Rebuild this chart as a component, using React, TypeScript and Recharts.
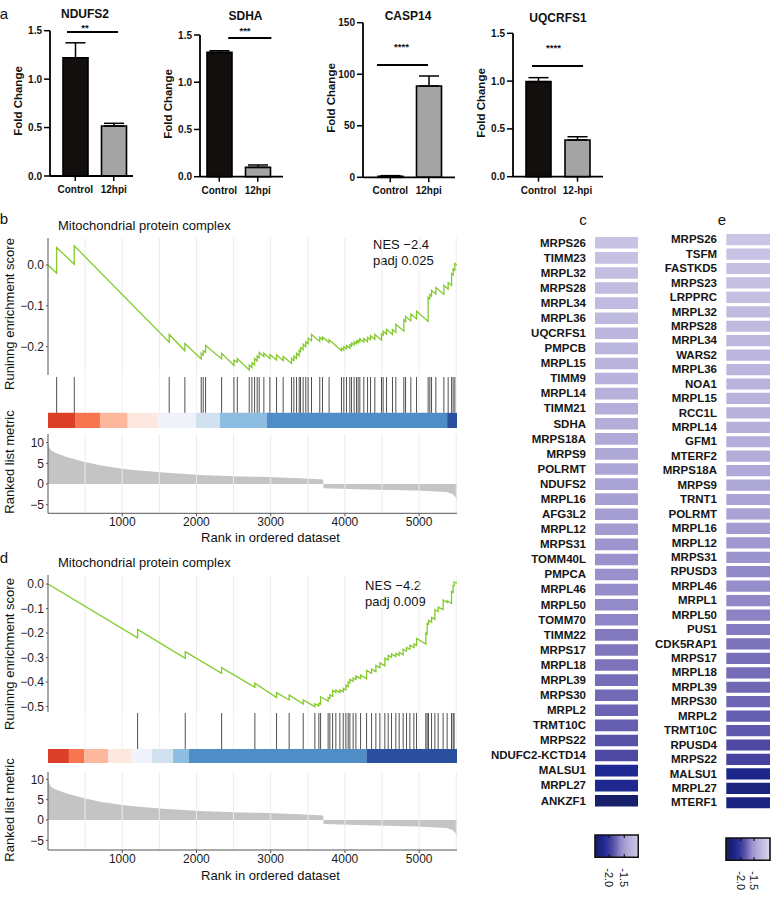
import React from "react";
import {
  Area,
  AreaChart,
  Bar,
  BarChart,
  Cell,
  ComposedChart,
  ErrorBar,
  Line,
  LineChart,
  ReferenceArea,
  ReferenceLine,
  XAxis,
  YAxis,
} from "recharts";

const FONT = "'Liberation Sans', Arial, Helvetica, sans-serif";
const MINUS = "\u2212";

// ---------- a: qPCR fold change ----------
const groups12hpi = ["Control", "12hpi"];
const groups12dash = ["Control", "12-hpi"];
const ndufs2Mean = [1.22, 0.516];
const ndufs2Sem = [0.155, 0.028];
const sdhaMean = [1.316, 0.099];
const sdhaSem = [0.017, 0.025];
const casp14Mean = [1.0, 88.6];
const casp14Sem = [0.6, 9.7];
const uqcrfs1Mean = [0.994, 0.384];
const uqcrfs1Sem = [0.042, 0.034];
const foldTicks = [0, 0.5, 1, 1.5];
const casp14Ticks = [0, 50, 100, 150];
const barFills = ["#140f0f", "#a4a4a4"];

const QPCR = [
  { title: "NDUFS2", titleX: 85, titleY: 14, groups: groups12hpi, mean: ndufs2Mean, sem: ndufs2Sem, ticks: foldTicks, digits: 1,
    left: 0, width: 140, plotTop: 30.7, plotBottom: 176, pad: { left: 6, right: 0 },
    stars: "**", starX: 85, starY: 25, sigY: 1.487, sigFrom: 0.205, sigTo: 0.82 },
  { title: "SDHA", titleX: 245.5, titleY: 15.5, groups: groups12hpi, mean: sdhaMean, sem: sdhaSem, ticks: foldTicks, digits: 1,
    left: 150, width: 140, plotTop: 35, plotBottom: 176.7, pad: { left: 0, right: 6 },
    stars: "***", starX: 245, starY: 28.3, sigY: 1.468, sigFrom: 0.34, sigTo: 0.86 },
  { title: "CASP14", titleX: 408, titleY: 15.5, groups: groups12hpi, mean: casp14Mean, sem: casp14Sem, ticks: casp14Ticks, digits: 0,
    left: 313, width: 149, plotTop: 22.7, plotBottom: 177.3, pad: { left: 8, right: 7 },
    stars: "****", starX: 401.5, starY: 44.5, sigY: 109, sigFrom: 0.152, sigTo: 0.707 },
  { title: "UQCRFS1", titleX: 558, titleY: 17.5, groups: groups12dash, mean: uqcrfs1Mean, sem: uqcrfs1Sem, ticks: foldTicks, digits: 1,
    left: 463, width: 147, plotTop: 33.3, plotBottom: 176.7, pad: { left: 6, right: 6 },
    stars: "****", starX: 553.5, starY: 45.8, sigY: 1.158, sigFrom: 0.211, sigTo: 0.778 },
];

// ---------- b / d: GSEA ----------
const rankMax = 5510;
const rankTicks = [1000, 2000, 3000, 4000, 5000];
const gridRanks = [500, 1000, 1500, 2000, 2500, 3000, 3500, 4000, 4500, 5000, 5500];
const metricTicks = [-5, 0, 5, 10];

const rankedMetric = [
  [0, 10.3], [10, 9.2], [35, 8.3], [71, 7.8], [150, 7.2], [251, 6.5], [480, 5.4], [700, 4.5],
  [1000, 3.7], [1150, 3.4], [1600, 2.7], [2050, 2.2], [2500, 1.9], [2950, 1.7], [3400, 1.4],
  [3707, 1.1], [3712, -1.0], [4300, -1.3], [4960, -1.6], [5370, -1.95], [5455, -2.5],
  [5490, -3.2], [5510, -4.0],
];

const bandColors = ["#dc3f28", "#f7754f", "#fcb79c", "#fde7df", "#eff2f9", "#d1e1f0", "#8dbde0", "#4f8dc6", "#2b4e9f"];

const hitRanksB = [
  116, 354, 1633, 1844, 2064, 2091, 2123, 2339, 2505, 2550, 2711, 2747, 2783, 2818, 2845, 2908,
  2989, 3079, 3168, 3281, 3312, 3348, 3384, 3402, 3437, 3473, 3504, 3550, 3661, 3698, 3787, 3954,
  3985, 4021, 4066, 4089, 4124, 4156, 4178, 4201, 4255, 4305, 4345, 4403, 4493, 4515, 4561, 4641,
  4686, 4794, 4817, 4888, 4965, 5121, 5144, 5167, 5225, 5333, 5391, 5437, 5458, 5481,
];
const bandsB = [[0, 364], [364, 700], [700, 1073], [1073, 1486], [1486, 1993], [1993, 2316], [2316, 2945], [2945, 5377], [5377, 5510]];
const esCurveB = [
  [0, 0.0], [116, -0.02], [116, 0.043], [354, 0.002], [354, 0.047], [1633, -0.189], [1633, -0.17],
  [1844, -0.21], [1844, -0.192], [2064, -0.23], [2064, -0.216], [2091, -0.221], [2091, -0.21],
  [2123, -0.214], [2123, -0.197], [2339, -0.23], [2339, -0.216], [2505, -0.246], [2505, -0.233],
  [2550, -0.238], [2550, -0.229], [2711, -0.257], [2711, -0.245], [2747, -0.251], [2747, -0.239],
  [2783, -0.245], [2783, -0.229], [2818, -0.235], [2818, -0.223], [2845, -0.227], [2845, -0.214],
  [2908, -0.224], [2908, -0.216], [2989, -0.229], [2989, -0.219], [3079, -0.233], [3079, -0.22],
  [3168, -0.234], [3168, -0.224], [3281, -0.241], [3281, -0.229], [3312, -0.234], [3312, -0.223],
  [3348, -0.229], [3348, -0.216], [3384, -0.222], [3384, -0.209], [3402, -0.212], [3402, -0.202],
  [3437, -0.207], [3437, -0.194], [3473, -0.2], [3473, -0.188], [3504, -0.193], [3504, -0.179],
  [3550, -0.186], [3550, -0.17], [3661, -0.187], [3661, -0.177], [3698, -0.183], [3698, -0.176],
  [3787, -0.19], [3787, -0.183], [3954, -0.21], [3954, -0.203], [3985, -0.208], [3985, -0.2],
  [4021, -0.205], [4021, -0.197], [4066, -0.204], [4066, -0.195], [4089, -0.199], [4089, -0.191],
  [4124, -0.196], [4124, -0.188], [4156, -0.193], [4156, -0.186], [4178, -0.19], [4178, -0.184],
  [4201, -0.188], [4201, -0.181], [4255, -0.189], [4255, -0.18], [4305, -0.188], [4305, -0.177],
  [4345, -0.183], [4345, -0.173], [4403, -0.182], [4403, -0.17], [4493, -0.184], [4493, -0.169],
  [4515, -0.172], [4515, -0.162], [4561, -0.169], [4561, -0.157], [4641, -0.17], [4641, -0.158],
  [4686, -0.165], [4686, -0.145], [4794, -0.162], [4794, -0.134], [4817, -0.138], [4817, -0.126],
  [4888, -0.137], [4888, -0.12], [4965, -0.132], [4965, -0.113], [5121, -0.138], [5121, -0.079],
  [5144, -0.083], [5144, -0.072], [5167, -0.076], [5167, -0.062], [5225, -0.071], [5225, -0.055],
  [5333, -0.072], [5333, -0.05], [5391, -0.059], [5391, -0.043], [5437, -0.05], [5437, -0.021],
  [5458, -0.024], [5458, -0.009], [5481, -0.012], [5481, 0.004], [5510, 0.0],
];

const hitRanksD = [
  1207, 1849, 2339, 2787, 3079, 3249, 3438, 3595, 3649, 3672, 3774, 3797, 3834, 3878, 3932, 3977,
  4013, 4044, 4067, 4111, 4148, 4211, 4292, 4359, 4417, 4471, 4538, 4583, 4628, 4686, 4731, 4785,
  4830, 4875, 4929, 4965, 5090, 5108, 5126, 5167, 5212, 5256, 5323, 5377, 5436, 5458, 5471,
];
const bandsD = [[0, 282], [282, 489], [489, 810], [810, 1123], [1123, 1400], [1400, 1685], [1685, 1900], [1900, 4290], [4290, 5510]];
const esCurveD = [
  [0, 0.0], [1207, -0.219], [1207, -0.185], [1849, -0.303], [1849, -0.276], [2339, -0.364], [2339, -0.341],
  [2787, -0.421], [2787, -0.405], [3079, -0.463], [3079, -0.443], [3249, -0.473], [3249, -0.452],
  [3438, -0.49], [3438, -0.473], [3595, -0.5], [3595, -0.489], [3649, -0.497], [3649, -0.486],
  [3672, -0.49], [3672, -0.46], [3774, -0.478], [3774, -0.463], [3797, -0.467], [3797, -0.452],
  [3834, -0.458], [3834, -0.434], [3878, -0.442], [3878, -0.433], [3932, -0.443], [3932, -0.432],
  [3977, -0.44], [3977, -0.426], [4013, -0.432], [4013, -0.413], [4044, -0.419], [4044, -0.399],
  [4067, -0.403], [4067, -0.389], [4111, -0.397], [4111, -0.383], [4148, -0.39], [4148, -0.375],
  [4211, -0.386], [4211, -0.372], [4292, -0.387], [4292, -0.352], [4359, -0.364], [4359, -0.347],
  [4417, -0.357], [4417, -0.332], [4471, -0.342], [4471, -0.322], [4538, -0.334], [4538, -0.302],
  [4583, -0.31], [4583, -0.291], [4628, -0.299], [4628, -0.285], [4686, -0.296], [4686, -0.283],
  [4731, -0.291], [4731, -0.279], [4785, -0.289], [4785, -0.266], [4830, -0.274], [4830, -0.258],
  [4875, -0.266], [4875, -0.249], [4929, -0.259], [4929, -0.244], [4965, -0.251], [4965, -0.222],
  [5090, -0.245], [5090, -0.2], [5108, -0.203], [5108, -0.16], [5126, -0.163], [5126, -0.148],
  [5167, -0.155], [5167, -0.136], [5212, -0.144], [5212, -0.104], [5256, -0.112], [5256, -0.094],
  [5323, -0.104], [5323, -0.065], [5377, -0.075], [5377, -0.068], [5436, -0.079], [5436, -0.03],
  [5458, -0.034], [5458, -0.006], [5471, -0.008], [5471, 0.009], [5510, 0.004],
];

const GSEA = [
  { label: "b", labelY: 217.5, titleY: 225, nes: "NES " + MINUS + "2.4", padj: "padj 0.025", nesX: 373, nesY: 244,
    es: esCurveB, hits: hitRanksB, bands: bandsB,
    esTop: 238, esBottom: 375, esDomain: [-0.2693, 0.0661], esTicks: [-0.2, -0.1, 0],
    hitsTop: 376.7, barTop: 412.5, barBottom: 427.7,
    rankTop: 434, rankBottom: 513.3, rankDomain: [-7.08, 12.08], xLabelY: 537,
    esLabelY: 314, rankLabelY: 461.7 },
  { label: "d", labelY: 557, titleY: 562, nes: "NES " + MINUS + "4.2", padj: "padj 0.009", nesX: 365, nesY: 585,
    es: esCurveD, hits: hitRanksD, bands: bandsD,
    esTop: 575, esBottom: 712, esDomain: [-0.522, 0.037], esTicks: [-0.5, -0.4, -0.3, -0.2, -0.1, 0],
    hitsTop: 713.3, barTop: 749.3, barBottom: 763.3,
    rankTop: 772, rankBottom: 850, rankDomain: [-7.37, 11.79], xLabelY: 875,
    esLabelY: 654, rankLabelY: 810 },
];

// ---------- c / e: heatmaps ----------
const genesC = [
  "MRPS26", "TIMM23", "MRPL32", "MRPS28", "MRPL34", "MRPL36", "UQCRFS1", "PMPCB", "MRPL15", "TIMM9",
  "MRPL14", "TIMM21", "SDHA", "MRPS18A", "MRPS9", "POLRMT", "NDUFS2", "MRPL16", "AFG3L2", "MRPL12",
  "MRPS31", "TOMM40L", "PMPCA", "MRPL46", "MRPL50", "TOMM70", "TIMM22", "MRPS17", "MRPL18", "MRPL39",
  "MRPS30", "MRPL2", "TRMT10C", "MRPS22", "NDUFC2-KCTD14", "MALSU1", "MRPL27", "ANKZF1",
];
const logfcC = [
  -1.1, -1.13, -1.15, -1.18, -1.2, -1.22, -1.25, -1.26, -1.28, -1.3,
  -1.33, -1.35, -1.36, -1.39, -1.4, -1.42, -1.44, -1.47, -1.48, -1.5,
  -1.55, -1.57, -1.58, -1.6, -1.61, -1.63, -1.68, -1.69, -1.7, -1.72,
  -1.74, -1.77, -1.79, -1.85, -1.9, -2.17, -2.2, -2.4,
];
const genesE = [
  "MRPS26", "TSFM", "FASTKD5", "MRPS23", "LRPPRC", "MRPL32", "MRPS28", "MRPL34", "WARS2", "MRPL36",
  "NOA1", "MRPL15", "RCC1L", "MRPL14", "GFM1", "MTERF2", "MRPS18A", "MRPS9", "TRNT1", "POLRMT",
  "MRPL16", "MRPL12", "MRPS31", "RPUSD3", "MRPL46", "MRPL1", "MRPL50", "PUS1", "CDK5RAP1", "MRPS17",
  "MRPL18", "MRPL39", "MRPS30", "MRPL2", "TRMT10C", "RPUSD4", "MRPS22", "MALSU1", "MRPL27", "MTERF1",
];
const logfcE = [
  -1.08, -1.1, -1.12, -1.14, -1.16, -1.19, -1.21, -1.23, -1.25, -1.26,
  -1.28, -1.3, -1.31, -1.33, -1.35, -1.37, -1.39, -1.41, -1.43, -1.45,
  -1.5, -1.52, -1.56, -1.62, -1.6, -1.62, -1.64, -1.67, -1.7, -1.72,
  -1.73, -1.75, -1.76, -1.79, -1.82, -1.9, -1.94, -2.22, -2.3, -2.28,
];
const colorTicks = [-2.0, -1.5];

const heatStops: [number, number[]][] = [
  [-2.45, [24, 30, 96]],
  [-2.25, [28, 38, 135]],
  [-2.15, [32, 42, 150]],
  [-2.0, [58, 58, 158]],
  [-1.9, [78, 72, 162]],
  [-1.8, [100, 92, 175]],
  [-1.7, [124, 115, 187]],
  [-1.6, [150, 142, 202]],
  [-1.5, [163, 156, 209]],
  [-1.35, [180, 174, 218]],
  [-1.1, [200, 195, 228]],
  [-0.9, [222, 219, 240]],
];

function heatColor(v: number) {
  if (v <= heatStops[0][0]) return `rgb(${heatStops[0][1].join(",")})`;
  for (let i = 1; i < heatStops.length; i++) {
    const [v1, c1] = heatStops[i];
    const [v0, c0] = heatStops[i - 1];
    if (v <= v1) {
      const t = (v - v0) / (v1 - v0);
      const c = c0.map((c, k) => Math.round(c + (c1[k] - c) * t));
      return `rgb(${c.join(",")})`;
    }
  }
  return `rgb(${heatStops[heatStops.length - 1][1].join(",")})`;
}

type TxtProps = {
  x: number; y: number; size?: number; weight?: number; rotate?: number;
  anchor?: "start" | "middle" | "end"; color?: string; children: React.ReactNode;
};

function Txt({ x, y, size = 12, weight = 400, rotate = 0, anchor = "middle", color = "#111", children }: TxtProps) {
  const shift = anchor === "start" ? "0%" : anchor === "end" ? "-100%" : "-50%";
  return (
    <div
      style={{
        position: "absolute", left: x, top: y, fontSize: size, fontWeight: weight, color,
        lineHeight: 1, whiteSpace: "nowrap", transform: `translate(${shift}, -50%) rotate(${rotate}deg)`,
      }}
    >
      {children}
    </div>
  );
}

function FoldPanel({ p }: { p: any }) {
  const data = p.groups.map((g: string, i: number) => ({ group: g, fold: p.mean[i], sem: [0, p.sem[i]] }));
  const H = 200;
  const axisH = 20;
  const yMax = p.ticks[p.ticks.length - 1];
  const boldTick = { fontSize: 10, fontWeight: 700, fill: "#111" };
  return (
    <>
      <Txt x={p.titleX} y={p.titleY} size={12} weight={700}>{p.title}</Txt>
      <Txt x={p.starX} y={p.starY + 2.5} size={9.5} weight={700}>{p.stars}</Txt>
      <Txt x={p.left + 18.5} y={(p.plotTop + p.plotBottom) / 2 - 2} size={11.5} weight={700} rotate={-90}>
        Fold Change
      </Txt>
      <div style={{ position: "absolute", left: p.left, top: 0 }}>
        <BarChart
          width={p.width}
          height={H}
          data={data}
          barSize={25}
          margin={{ top: p.plotTop, right: 7, bottom: H - p.plotBottom - axisH, left: 0 }}
        >
          <XAxis
            xAxisId="cat"
            dataKey="group"
            height={axisH}
            padding={p.pad}
            interval={0}
            axisLine={{ stroke: "#000", strokeWidth: 1.8 }}
            tickLine={{ stroke: "#000", strokeWidth: 1.5 }}
            tickSize={5}
            tickMargin={5}
            tick={boldTick}
          />
          <XAxis xAxisId="pos" type="number" domain={[0, 1]} hide />
          <YAxis
            domain={[0, yMax]}
            ticks={p.ticks}
            width={50}
            tickFormatter={(v: number) => v.toFixed(p.digits)}
            axisLine={{ stroke: "#000", strokeWidth: 1.8 }}
            tickLine={{ stroke: "#000", strokeWidth: 1.5 }}
            tickSize={6}
            tickMargin={2}
            tick={boldTick}
          />
          <Bar xAxisId="cat" dataKey="fold" stroke="#000" strokeWidth={1.6} isAnimationActive={false}>
            {data.map((d: any, i: number) => (
              <Cell key={d.group} fill={barFills[i]} />
            ))}
            <ErrorBar dataKey="sem" width={10} stroke="#000" strokeWidth={1.5} direction="y" />
          </Bar>
          <ReferenceLine
            xAxisId="pos"
            segment={[{ x: p.sigFrom, y: p.sigY }, { x: p.sigTo, y: p.sigY }]}
            stroke="#000"
            strokeWidth={2}
          />
        </BarChart>
      </div>
    </>
  );
}

const signed1 = (v: number) => (v === 0 ? "0.0" : (v < 0 ? MINUS : "") + Math.abs(v).toFixed(1));
const signedInt = (v: number) => (v < 0 ? MINUS + Math.abs(v) : String(v));

function GseaPanel({ g }: { g: any }) {
  const W = 466;
  const yW = 48;
  const right = 9;
  const xDomain = [0, rankMax];
  const esData = g.es.map(([rank, es]: number[]) => ({ rank, es }));
  const hitData = g.hits.map((rank: number) => ({ rank, level: 1 }));
  const metricData = rankedMetric.map(([rank, metric]) => ({ rank, metric }));
  const barFrac = (g.barBottom - g.barTop) / (g.barBottom - g.hitsTop);
  const tickStyle = { fontSize: 12, fill: "#1a1a1a" };
  const grid = gridRanks.map((r) => <ReferenceLine key={"g" + r} x={r} stroke="#ebebeb" strokeWidth={1} />);
  const hitGrid = gridRanks.map((r) => (
    <ReferenceLine key={"hg" + r} segment={[{ x: r, y: barFrac }, { x: r, y: 1 }]} stroke="#efefef" strokeWidth={1} />
  ));
  const rankAxisH = 28;

  return (
    <>
      <Txt x={4} y={g.labelY} size={15}>{g.label}</Txt>
      <Txt x={58} y={g.titleY} size={13} anchor="start">Mitochondrial protein complex</Txt>
      <Txt x={g.nesX} y={g.nesY} size={13} anchor="start">{g.nes}</Txt>
      <Txt x={g.nesX} y={g.nesY + 15.8} size={13} anchor="start">{g.padj}</Txt>
      <Txt x={8.5} y={g.esLabelY} size={13} rotate={-90}>Runinng enrichment score</Txt>
      <Txt x={8.5} y={g.rankLabelY} size={13} rotate={-90}>Ranked list metric</Txt>
      <Txt x={270.5} y={g.xLabelY} size={13}>Rank in ordered dataset</Txt>

      <div style={{ position: "absolute", left: 0, top: g.esTop - 4 }}>
        <LineChart width={W} height={g.esBottom - g.esTop + 8} data={esData} margin={{ top: 4, right, bottom: 4, left: 0 }}>
          <XAxis dataKey="rank" type="number" domain={xDomain} hide allowDataOverflow />
          <YAxis
            domain={g.esDomain}
            ticks={g.esTicks}
            width={yW}
            allowDataOverflow
            tickFormatter={signed1}
            axisLine={{ stroke: "#555" }}
            tickLine={{ stroke: "#555" }}
            tickSize={2}
            tickMargin={2}
            tick={tickStyle}
          />
          {grid}
          <Line dataKey="es" type="linear" stroke="#82cb2b" strokeWidth={1.3} dot={false} isAnimationActive={false} />
        </LineChart>
      </div>

      <div style={{ position: "absolute", left: 0, top: g.hitsTop }}>
        <ComposedChart width={W} height={g.barBottom - g.hitsTop} data={hitData} margin={{ top: 0, right, bottom: 0, left: yW }}>
          <XAxis dataKey="rank" type="number" domain={xDomain} hide />
          <YAxis type="number" domain={[0, 1]} hide />
          {hitGrid}
          {g.bands.map(([x1, x2]: number[], i: number) => (
            <ReferenceArea key={"b" + i} x1={x1} x2={x2} y1={0} y2={barFrac} fill={bandColors[i]} fillOpacity={1} stroke="none" />
          ))}
          {g.hits.map((r: number) => (
            <ReferenceLine
              key={"h" + r}
              segment={[{ x: r, y: barFrac }, { x: r, y: 1 }]}
              stroke="#333"
              strokeOpacity={0.85}
              strokeWidth={1}
            />
          ))}
          <Line dataKey="level" stroke="none" dot={false} activeDot={false} isAnimationActive={false} />
        </ComposedChart>
      </div>

      <div style={{ position: "absolute", left: 0, top: g.rankTop }}>
        <AreaChart
          width={W}
          height={g.rankBottom - g.rankTop + rankAxisH}
          data={metricData}
          margin={{ top: 0, right, bottom: 0, left: 0 }}
        >
          <XAxis
            dataKey="rank"
            type="number"
            domain={xDomain}
            ticks={rankTicks}
            height={rankAxisH}
            axisLine={{ stroke: "#555" }}
            tickLine={{ stroke: "#555" }}
            tickSize={3}
            tickMargin={1}
            tick={tickStyle}
          />
          <YAxis
            domain={g.rankDomain}
            ticks={metricTicks}
            width={yW}
            allowDataOverflow
            tickFormatter={signedInt}
            axisLine={{ stroke: "#555" }}
            tickLine={{ stroke: "#555" }}
            tickSize={2}
            tickMargin={2}
            tick={tickStyle}
          />
          {grid}
          <Area
            dataKey="metric"
            type="linear"
            baseValue={0}
            fill="#c4c4c4"
            fillOpacity={1}
            stroke="none"
            isAnimationActive={false}
          />
        </AreaChart>
      </div>
    </>
  );
}

function HeatColumn({ genes, values, firstY, step, cellLeft, cellRight, labelRight, barH }: any) {
  const data = genes.map((gene: string, i: number) => ({ gene, value: values[i], span: 1 }));
  const left = labelRight - 130;
  return (
    <div style={{ position: "absolute", left, top: firstY - step / 2 }}>
      <BarChart
        layout="vertical"
        width={cellRight - left}
        height={genes.length * step}
        data={data}
        barSize={barH}
        margin={{ top: 0, right: 0, bottom: 0, left: 0 }}
      >
        <XAxis type="number" domain={[0, 1]} hide />
        <YAxis
          type="category"
          dataKey="gene"
          width={cellLeft - left}
          interval={0}
          axisLine={false}
          tickLine={false}
          tickSize={0}
          tickMargin={cellLeft - labelRight}
          tick={{ fontSize: 11.5, fontWeight: 700, fill: "#161616" }}
        />
        <Bar dataKey="span" isAnimationActive={false}>
          {data.map((d: any) => (
            <Cell key={d.gene} fill={heatColor(d.value)} />
          ))}
        </Bar>
      </BarChart>
    </div>
  );
}

function RotTick({ x, y, payload }: any) {
  const ty = y + 11;
  return (
    <text x={x} y={ty} transform={`rotate(90 ${x} ${ty})`} fontSize={11} fill="#111" textAnchor="start" dominantBaseline="central">
      {Number(payload.value).toFixed(1)}
    </text>
  );
}

function ColorBar({ id, x0, x1, top, bottom, domain }: any) {
  const stops = Array.from({ length: 11 }, (_, i) => {
    const v = domain[0] + ((domain[1] - domain[0]) * i) / 10;
    return <stop key={i} offset={`${i * 10}%`} stopColor={heatColor(v)} />;
  });
  const data = [{ v: domain[0], y: 0 }, { v: domain[1], y: 1 }];
  const h = bottom - top;
  return (
    <div style={{ position: "absolute", left: x0 - 1, top: top - 1 }}>
      <ComposedChart width={x1 - x0 + 2} height={h + 32} data={data} margin={{ top: 1, right: 1, bottom: 0, left: 1 }}>
        <defs>
          <linearGradient id={id} x1="0" y1="0" x2="1" y2="0">
            {stops}
          </linearGradient>
        </defs>
        <XAxis
          dataKey="v"
          type="number"
          domain={domain}
          ticks={colorTicks}
          interval={0}
          height={31}
          axisLine={false}
          tickLine={false}
          tickSize={0}
          tickMargin={0}
          tick={<RotTick />}
          allowDataOverflow
        />
        <YAxis type="number" domain={[0, 1]} hide />
        <ReferenceArea x1={domain[0]} x2={domain[1]} y1={0} y2={1} fill={`url(#${id})`} fillOpacity={1} stroke="#111" strokeWidth={1.6} />
        {colorTicks.map((t) => (
          <ReferenceLine key={"lo" + t} segment={[{ x: t, y: 0 }, { x: t, y: 0.14 }]} stroke="#111" strokeWidth={1.2} />
        ))}
        {colorTicks.map((t) => (
          <ReferenceLine key={"hi" + t} segment={[{ x: t, y: 0.86 }, { x: t, y: 1 }]} stroke="#111" strokeWidth={1.2} />
        ))}
        <Line dataKey="y" stroke="none" dot={false} activeDot={false} isAnimationActive={false} />
      </ComposedChart>
    </div>
  );
}

export default function App() {
  return (
    <div
      style={{
        position: "absolute", left: 0, top: 0, width: 778, height: 897, background: "#fff",
        fontFamily: FONT, overflow: "hidden",
      }}
    >
      <Txt x={4} y={12.5} size={15}>a</Txt>
      {QPCR.map((p) => (
        <FoldPanel key={p.title} p={p} />
      ))}

      {GSEA.map((g) => (
        <GseaPanel key={g.label} g={g} />
      ))}

      <Txt x={583} y={219} size={15}>c</Txt>
      <Txt x={722} y={219} size={15}>e</Txt>
      <HeatColumn genes={genesC} values={logfcC} firstY={242.2} step={15.08} cellLeft={595} cellRight={638.3} labelRight={586} barH={11.6} />
      <HeatColumn genes={genesE} values={logfcE} firstY={238.9} step={14.44} cellLeft={726} cellRight={770} labelRight={716.7} barH={11.2} />
      <ColorBar id="cbC" x0={595} x1={638.3} top={835} bottom={857.3} domain={[-2.457, -1.042]} />
      <ColorBar id="cbE" x0={726} x1={770} top={837.7} bottom={860} domain={[-2.55, -0.9]} />
    </div>
  );
}
